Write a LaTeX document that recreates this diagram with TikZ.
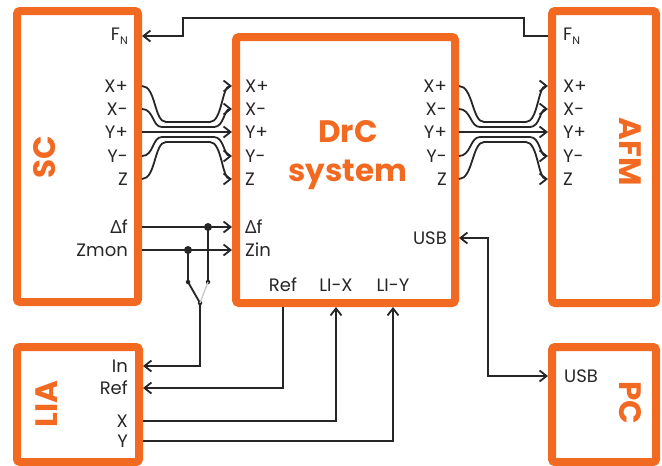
\documentclass[tikz,border=0pt]{standalone}
\usepackage{fontspec}
\setmainfont{Poppins}
\newfontfamily\grkfont{Noto Sans}
\usepackage{xcolor}
\usepackage{tikz}
\usetikzlibrary{arrows.meta}

\definecolor{drcorange}{RGB}{242,106,33}
\newcommand{\ttlfont}{\fontsize{31}{39}\selectfont\bfseries}
\newcommand{\portfont}{\fontsize{18}{21}\selectfont}
\newcommand{\FN}{F\raisebox{-0.45ex}{\fontsize{11}{11}\selectfont N}}
\newcommand{\Df}{{\grkfont\symbol{"0394}}f}

\begin{document}
\begin{tikzpicture}[
  x=1pt, y=-1pt,
  >={Straight Barb[length=7pt,width=11pt]},
  unit/.style={draw=drcorange, line width=8pt, rounded corners=3pt, inner sep=0pt},
  ttl/.style={text=drcorange, font=\ttlfont, align=center, inner sep=0pt},
  portl/.style={font=\portfont, text=black!85, inner sep=0pt, anchor=east},
  portr/.style={font=\portfont, text=black!85, inner sep=0pt, anchor=west},
  portc/.style={font=\portfont, text=black!85, inner sep=0pt},
  wire/.style={draw=black!85, line width=1.8pt},
  jdot/.style={circle, fill=black!85, inner sep=0pt, minimum size=8pt},
  tdot/.style={circle, fill=black!85, inner sep=0pt, minimum size=4.5pt}
]
\useasboundingbox (0,0) rectangle (662,466);

% ==================== UNITS ====================
\node[unit, minimum width=121pt, minimum height=291pt] (sc)  at (77.5,156.5) {};
\node[unit, minimum width=219pt, minimum height=266pt] (drc) at (345.5,170) {};
\node[unit, minimum width=104pt, minimum height=292pt] (afm) at (604,157) {};
\node[unit, minimum width=122pt, minimum height=115pt] (lia) at (78,404.5) {};
\node[unit, minimum width=104pt, minimum height=115pt] (pc)  at (604,404.5) {};

\node[ttl, rotate=90]  (sc-ttl)  at (45,157) {SC};
\node[ttl, rotate=-90] (afm-ttl) at (630,152) {AFM};
\node[ttl, rotate=90]  (lia-ttl) at (47,404) {LIA};
\node[ttl, rotate=-90] (pc-ttl)  at (630,403) {PC};
\node[ttl] (drc-ttl) at (348,155) {DrC\\system};

% ==================== PORTS ====================
% SC
\node[portl] (sc-fn) at (128,36)  {\FN};
\node[portl] (sc-xp) at (128,86)  {X+};
\node[portl] (sc-xm) at (128,109) {X-};
\node[portl] (sc-yp) at (128,132) {Y+};
\node[portl] (sc-ym) at (128,156) {Y-};
\node[portl] (sc-z)  at (128,179) {Z};
\node[portl] (sc-df) at (128,227) {\Df};
\node[portl] (sc-zm) at (128,250) {Zmon};

% DrC
\node[portr] (drc-xp) at (245,86)  {X+};
\node[portr] (drc-xm) at (245,109) {X-};
\node[portr] (drc-yp) at (245,132) {Y+};
\node[portr] (drc-ym) at (245,156) {Y-};
\node[portr] (drc-z)  at (245,179) {Z};
\node[portr] (drc-df) at (245,227) {\Df};
\node[portr] (drc-zi) at (245,250) {Zin};

\node[portl] (drc-oxp) at (447,86)  {X+};
\node[portl] (drc-oxm) at (447,109) {X-};
\node[portl] (drc-oyp) at (447,132) {Y+};
\node[portl] (drc-oym) at (447,156) {Y-};
\node[portl] (drc-oz)  at (447,179) {Z};
\node[portl] (drc-usb) at (447,238) {USB};

\node[portc] (drc-ref) at (283,285) {Ref};
\node[portc] (drc-lix) at (336,285) {LI-X};
\node[portc] (drc-liy) at (393,285) {LI-Y};

% AFM
\node[portr] (afm-fn) at (563,36)  {\FN};
\node[portr] (afm-xp) at (563,86)  {X+};
\node[portr] (afm-xm) at (563,109) {X-};
\node[portr] (afm-yp) at (563,132) {Y+};
\node[portr] (afm-ym) at (563,156) {Y-};
\node[portr] (afm-z)  at (563,179) {Z};

% LIA and PC
\node[portl] (lia-in)  at (128,366) {In};
\node[portl] (lia-ref) at (128,388) {Ref};
\node[portl] (lia-x)   at (128,421) {X};
\node[portl] (lia-y)   at (128,441) {Y};
\node[portr] (pc-usb)  at (564,376) {USB};

% ==================== CONNECTORS ====================
% force feedback
\draw[wire, ->] (afm.west |- afm-fn) -- ++(-24,0) -- ++(0,-18) -| (183,36) -- (sc.east |- sc-fn);

% scan bundle SC -> DrC
\draw[wire, ->] (sc.east |- sc-xp) .. controls +(14,0) and +(-12,0) .. (166,122) -- (210,122) .. controls +(12,0) and +(-10,0) .. (drc.west |- drc-xp);
\draw[wire, ->] (sc.east |- sc-xm) .. controls +(12,0) and +(-10,0) .. (162,127) -- (214,127) .. controls +(10,0) and +(-8,0) .. (drc.west |- drc-xm);
\draw[wire, ->] (sc.east |- sc-yp) -- (drc.west |- drc-yp);
\draw[wire, ->] (sc.east |- sc-ym) .. controls +(12,0) and +(-10,0) .. (162,137) -- (214,137) .. controls +(10,0) and +(-8,0) .. (drc.west |- drc-ym);
\draw[wire, ->] (sc.east |- sc-z) .. controls +(14,0) and +(-12,0) .. (166,142) -- (210,142) .. controls +(12,0) and +(-10,0) .. (drc.west |- drc-z);

% scan bundle DrC -> AFM
\draw[wire, ->] (drc.east |- drc-oxp) .. controls +(14,0) and +(-12,0) .. (484,122) -- (526,122) .. controls +(12,0) and +(-10,0) .. (afm.west |- afm-xp);
\draw[wire, ->] (drc.east |- drc-oxm) .. controls +(12,0) and +(-10,0) .. (480,127) -- (530,127) .. controls +(10,0) and +(-8,0) .. (afm.west |- afm-xm);
\draw[wire, ->] (drc.east |- drc-oyp) -- (afm.west |- afm-yp);
\draw[wire, ->] (drc.east |- drc-oym) .. controls +(12,0) and +(-10,0) .. (480,137) -- (530,137) .. controls +(10,0) and +(-8,0) .. (afm.west |- afm-ym);
\draw[wire, ->] (drc.east |- drc-oz) .. controls +(14,0) and +(-12,0) .. (484,142) -- (526,142) .. controls +(12,0) and +(-10,0) .. (afm.west |- afm-z);

% df / Zmon with switch to LIA
\draw[wire, ->] (sc.east |- sc-df) -- (drc.west |- drc-df);
\draw[wire, ->] (sc.east |- sc-zm) -- (drc.west |- drc-zi);
\node[jdot] (j-df) at (208,227) {};
\node[jdot] (j-zm) at (188,250) {};
\node[tdot] (sw-a) at (188,282) {};
\node[tdot] (sw-b) at (208,282) {};
\node[tdot] (sw-c) at (200,303) {};
\draw[wire] (j-df.center) -- (sw-b.center);
\draw[wire] (j-zm.center) -- (sw-a.center) -- (sw-c.center);
\draw[gray!45, line width=1.3pt] (sw-b.center) -- (sw-c.center);
\draw[wire, ->] (sw-c.center) |- (lia.east |- lia-in);

% lock-in
\draw[wire, ->] (drc.south -| drc-ref) |- (lia.east |- lia-ref);
\draw[wire, ->] (lia.east |- lia-x) -| (drc.south -| drc-lix);
\draw[wire, ->] (lia.east |- lia-y) -| (drc.south -| drc-liy);

% USB
\draw[wire, <->] (drc.east |- drc-usb) -- ++(29,0) |- (pc.west |- pc-usb);

\end{tikzpicture}
\end{document}
